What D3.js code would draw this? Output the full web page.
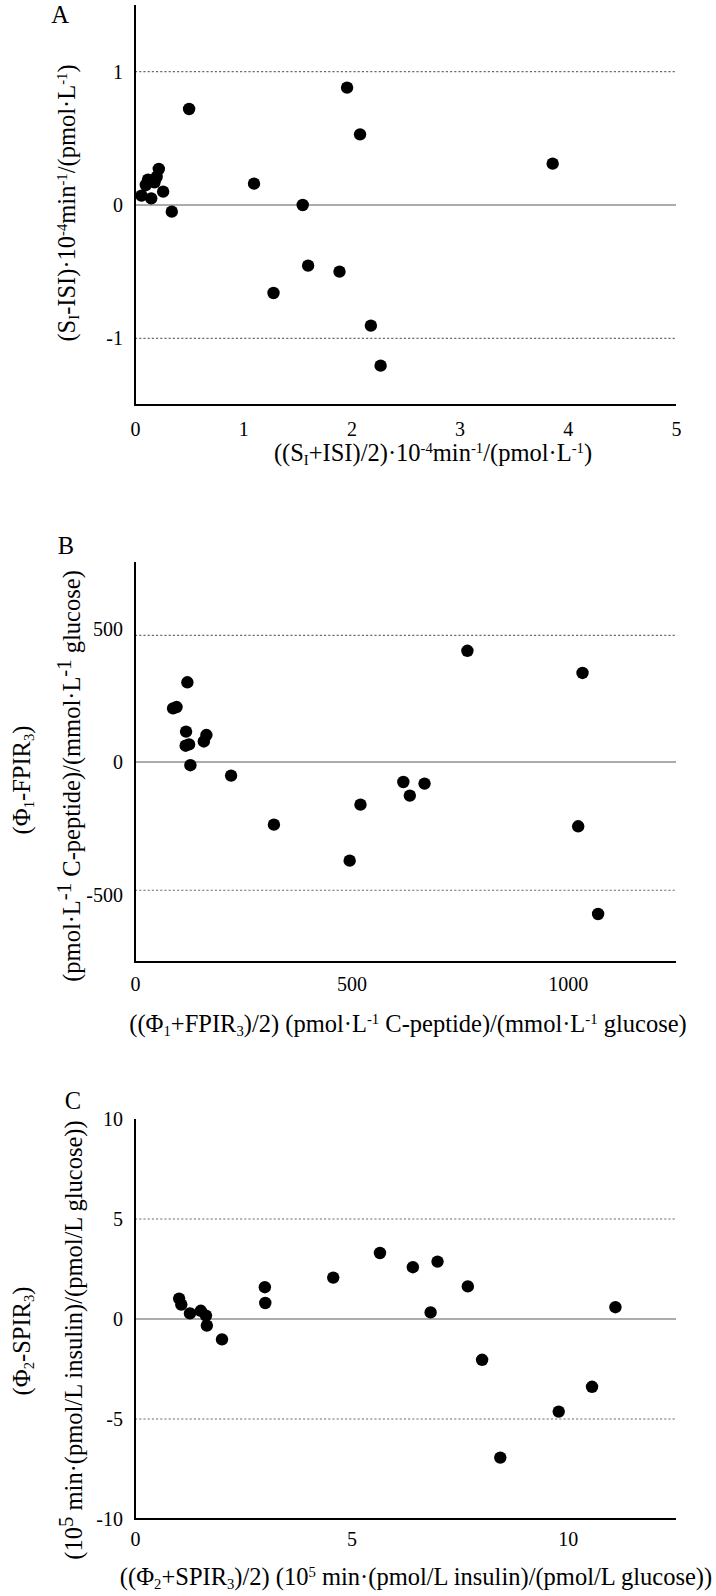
<!DOCTYPE html>
<html>
<head>
<meta charset="utf-8">
<script src="https://cdn.jsdelivr.net/npm/d3@7/dist/d3.min.js"></script>
<style>
  html, body { margin: 0; padding: 0; background: #fff; }
  svg { display: block; }
  text { font-family: "Liberation Serif", "Times New Roman", serif; fill: #000; }
</style>
</head>
<body>
<svg id="chart" width="716" height="1596"></svg>
<script>
// ---------- Panel A ----------
const aX = [0.06, 0.10, 0.12, 0.15, 0.18, 0.20, 0.22, 0.26, 0.34, 0.50, 1.10, 1.28, 1.55, 1.60, 1.89, 1.96, 2.08, 2.18, 2.27, 3.86];
const aY = [0.07, 0.15, 0.19, 0.05, 0.17, 0.21, 0.27, 0.10, -0.05, 0.72, 0.16, -0.66, 0.00, -0.455, -0.50, 0.88, 0.53, -0.905, -1.205, 0.31];
const aXTicks = [0, 1, 2, 3, 4, 5];
const aYTicks = [-1, 0, 1];
const aLimits = [1, -1];

// ---------- Panel B ----------
const bX = [768, 1034, 121, 88, 96, 118, 165, 159, 117, 125, 128, 222, 620, 669, 635, 521, 321, 1024, 496, 1070];
const bY = [417, 334, 299, 201, 206, 114, 101, 77, 61, 66, -12, -51, -75, -81, -126, -160, -235, -241, -370, -570];
const bXTicks = [0, 500, 1000];
const bYTicks = [-500, 0, 500];
const bLimits = [475, -481];

// ---------- Panel C ----------
const cX = [5.66, 6.42, 6.99, 4.58, 3.00, 7.69, 3.01, 1.02, 1.07, 1.27, 1.52, 1.64, 1.66, 2.01, 6.83, 11.10, 8.02, 10.56, 9.79, 8.44];
const cY = [3.30, 2.59, 2.87, 2.07, 1.59, 1.63, 0.80, 1.02, 0.72, 0.28, 0.41, 0.17, -0.33, -1.02, 0.33, 0.59, -2.04, -3.39, -4.63, -6.93];
const cXTicks = [0, 5, 10];
const cYTicks = [-10, -5, 0, 5, 10];
const cLimits = [5, -5];

// titles as [text, kind] segments
const aXTitle = [["((S","n"],["I","sub"],["+ISI)/2)·10","n"],["-4","sup"],["min","n"],["-1","sup"],["/(pmol·L","n"],["-1","sup"],[")","n"]];
const aYTitle = [["(S","n"],["I","sub"],["-ISI)·10","n"],["-4","sup"],["min","n"],["-1","sup"],["/(pmol·L","n"],["-1","sup"],[")","n"]];
const bXTitle = [["((Φ","n"],["1","sub"],["+FPIR","n"],["3","sub"],[")/2) (pmol·L","n"],["-1","sup"],[" C-peptide)/(mmol·L","n"],["-1","sup"],[" glucose)","n"]];
const bYTitle1 = [["(Φ","n"],["1","sub"],["-FPIR","n"],["3","sub"],[")","n"]];
const bYTitle2 = [["(pmol·L","n"],["-1","supb"],[" C-peptide)/(mmol·L","n"],["-1","supb"],[" glucose)","n"]];
const cXTitle = [["((Φ","n"],["2","sub"],["+SPIR","n"],["3","sub"],[")/2) (10","n"],["5","sup"],[" min·(pmol/L insulin)/(pmol/L glucose))","n"]];
const cYTitle1 = [["(Φ","n"],["2","sub"],["-SPIR","n"],["3","sub"],[")","n"]];
const cYTitle2 = [["(10","n"],["5","supb"],[" min·(pmol/L insulin)/(pmol/L glucose))","n"]];

const svg = d3.select("#chart");
const TICK_FS = 20, TITLE_FS = 24.5;

function richText(g, segs, x, y, fs, rotate) {
  const t = g.append("text")
    .attr("font-size", fs)
    .attr("text-anchor", "middle")
    .attr("dy", "0.35em");
  if (rotate) t.attr("transform", `translate(${x},${y}) rotate(-90)`);
  else t.attr("x", x).attr("y", y);
  segs.forEach(([s, k]) => {
    const ts = t.append("tspan").text(s);
    if (k === "sub") ts.attr("font-size", fs * 0.6).attr("baseline-shift", "-25%");
    else if (k === "sup") ts.attr("font-size", fs * 0.6).attr("baseline-shift", "55%");
    else if (k === "supb") ts.attr("font-size", fs * 0.85).attr("baseline-shift", "45%");
  });
  return t;
}

function panel(cfg) {
  const g = svg.append("g");
  const x = d3.scaleLinear().domain(cfg.xDomain).range([cfg.left, cfg.right]);
  const y = d3.scaleLinear().domain(cfg.yDomain).range([cfg.bottom, cfg.top]);

  // limits of agreement (dashed)
  g.selectAll("line.lim").data(cfg.limits).join("line")
    .attr("x1", x(cfg.xDomain[0])).attr("x2", x(cfg.xDomain[1]))
    .attr("y1", d => y(d)).attr("y2", d => y(d))
    .attr("stroke", "#6e6e6e").attr("stroke-width", 1.1)
    .attr("stroke-dasharray", "2.2,2");

  // zero line
  g.append("line")
    .attr("x1", x(cfg.xDomain[0])).attr("x2", x(cfg.xDomain[1]))
    .attr("y1", y(0)).attr("y2", y(0))
    .attr("stroke", "#5a5a5a").attr("stroke-width", 1.2);

  // axes via d3 axis generators (no tick marks), hyphen-minus labels
  const fmt = d => String(d);
  const xAxis = d3.axisBottom(x).tickValues(cfg.xTicks).tickSize(0).tickPadding(cfg.xPad).tickFormat(fmt);
  const yAxis = d3.axisLeft(y).tickValues(cfg.yTicks).tickSize(0).tickPadding(12).tickFormat(fmt);

  const gx = g.append("g").attr("transform", `translate(0,${cfg.bottom})`).call(xAxis);
  const gy = g.append("g").attr("transform", `translate(${cfg.left},0)`).call(yAxis);
  [gx, gy].forEach(a => {
    a.attr("font-family", null);
    a.select(".domain").remove();
    a.selectAll("text").attr("font-size", TICK_FS).attr("fill", "#000");
  });
  gx.selectAll("text").attr("dy", "0.35em").attr("y", cfg.xPad);

  // axis lines
  g.append("line").attr("x1", cfg.left).attr("x2", cfg.left).attr("y1", cfg.top).attr("y2", cfg.bottom + 1)
    .attr("stroke", "#000").attr("stroke-width", 2);
  g.append("line").attr("x1", cfg.left - 1).attr("x2", cfg.right).attr("y1", cfg.bottom).attr("y2", cfg.bottom)
    .attr("stroke", "#000").attr("stroke-width", 2);

  // points
  g.selectAll("circle").data(cfg.xs.map((v, i) => [v, cfg.ys[i]])).join("circle")
    .attr("cx", d => x(d[0])).attr("cy", d => y(d[1])).attr("r", 6.2).attr("fill", "#000");

  // titles
  richText(g, cfg.xTitle, cfg.xTitlePos[0], cfg.xTitlePos[1], TITLE_FS, false);
  cfg.yTitles.forEach(([segs, px, py]) => richText(g, segs, px, py, TITLE_FS, true));

  g.append("text").attr("x", cfg.labelPos[0]).attr("y", cfg.labelPos[1]).attr("dy", "0.35em")
    .attr("text-anchor", "middle").attr("font-size", TITLE_FS).text(cfg.label);
}

panel({
  xs: aX, ys: aY, xDomain: [0, 5], yDomain: [-1.5, 1.5],
  left: 135, right: 676, top: 5, bottom: 405,
  xTicks: aXTicks, yTicks: aYTicks, limits: aLimits, xPad: 24,
  xTitle: aXTitle, xTitlePos: [433, 452],
  yTitles: [[aYTitle, 66, 203]],
  label: "A", labelPos: [60, 14]
});

panel({
  xs: bX, ys: bY, xDomain: [0, 1250], yDomain: [-750, 750],
  left: 135, right: 676, top: 562, bottom: 962,
  xTicks: bXTicks, yTicks: bYTicks, limits: bLimits, xPad: 22,
  xTitle: bXTitle, xTitlePos: [408, 1023],
  yTitles: [[bYTitle1, 21, 780], [bYTitle2, 71, 776]],
  label: "B", labelPos: [66, 545]
});

panel({
  xs: cX, ys: cY, xDomain: [0, 12.5], yDomain: [-10, 10],
  left: 135, right: 676, top: 1119, bottom: 1519,
  xTicks: cXTicks, yTicks: cYTicks, limits: cLimits, xPad: 20,
  xTitle: cXTitle, xTitlePos: [416, 1576],
  yTitles: [[cYTitle1, 21, 1341], [cYTitle2, 73, 1340]],
  label: "C", labelPos: [73, 1100]
});
</script>
</body>
</html>
